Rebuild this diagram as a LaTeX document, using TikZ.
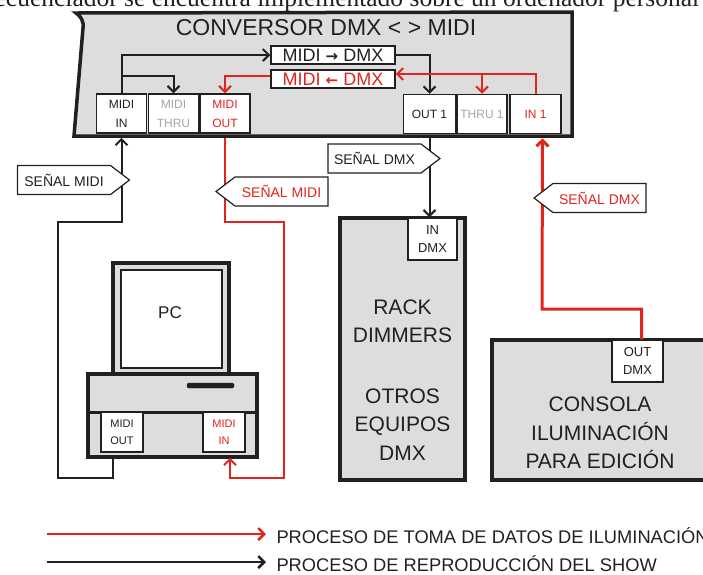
\documentclass[tikz,border=0pt]{standalone}
\usepackage{fontspec}
\setmainfont{Liberation Sans}
\newfontfamily\docserif{Liberation Serif}
\newfontfamily\arrowsym{DejaVu Sans}
\usetikzlibrary{arrows.meta,shapes.symbols,calc}

\definecolor{convGray}{RGB}{221,221,221}
\definecolor{sigRed}{RGB}{224,36,30}
\definecolor{thruGray}{RGB}{165,165,165}
\definecolor{inkBlack}{RGB}{35,31,32}

\begin{document}
\begin{tikzpicture}[x=1pt, y=-1pt, text=inkBlack,
   frame/.style={draw=inkBlack, line width=3.5pt, fill=convGray, inner sep=0pt},
   port/.style={draw=inkBlack, line width=1.5pt, fill=white, inner sep=0pt, align=center,
             minimum width=50pt, minimum height=39pt, font=\fontsize{12}{19}\selectfont},
   jack/.style={port, minimum width=49pt, minimum height=42pt, font=\fontsize{13}{18}\selectfont},
   route/.style={draw=inkBlack, line width=1.5pt, fill=white, inner sep=0pt,
             minimum width=124pt, minimum height=18pt, font=\fontsize{18}{18}\selectfont},
   tag/.style={signal, draw=inkBlack, line width=1.2pt, fill=white, inner sep=0pt,
             minimum width=112pt, minimum height=29pt, signal pointer angle=75,
             font=\fontsize{14}{14}\selectfont},
   blk/.style={draw=inkBlack, line width=2pt, -{Straight Barb[length=6pt,width=12pt]}},
   rd/.style={blk, draw=sigRed},
   big/.style={align=center, font=\fontsize{21}{28.5}\selectfont}]

  \useasboundingbox (0,0) rectangle (703,574);

  % ===== texto del documento (cortado) =====
  \node[anchor=base west, inner sep=0pt, font=\docserif\fontsize{25.5}{25.5}\selectfont]
        (doctext) at (124,6.5) {\llap{secuenciador }se encuentra implementado sobre un ordenador personal};

  % ===== Conversor DMX <> MIDI =====
  \draw[frame] (76,13) .. controls (81,16) and (84,22) .. (83,28) -- (74,136)
        -- (572,136) -- (572,12) -- cycle;
  \node[font=\fontsize{23}{23}\selectfont] (convtitle) at (326,28) {CONVERSOR DMX < > MIDI};
  \node[route] (mtod) at (333,55) {MIDI {\arrowsym\bfseries\fontsize{15}{15}\selectfont →} DMX};
  \node[route, text=sigRed] (dtom) at (333,79) {MIDI {\arrowsym\bfseries\fontsize{15}{15}\selectfont ←} DMX};
  % puertos MIDI
  \node[port] (midiin) at (121.5,113.5) {MIDI\\IN};
  \node[port, text=thruGray] (midithru) at (173.5,113.5) {MIDI\\THRU};
  \node[port, text=sigRed] (midiout) at (225,113.5) {MIDI\\OUT};
  % puertos DMX
  \node[port, minimum width=52pt] (out1) at (429.5,114) {OUT 1};
  \node[port, text=thruGray] (thru1) at (482,114) {THRU 1};
  \node[port, minimum width=51pt, text=sigRed] (in1) at (535.5,114) {IN 1};

  % ===== Rack y consola =====
  \node[frame, minimum width=125pt, minimum height=262pt] (rack) at (402.5,349) {};
  \node[jack] (indmx) at (432.5,239) {IN\\DMX};
  \node[big] (racktxt) at (402.5,380) {RACK\\DIMMERS\\[32pt]OTROS\\EQUIPOS\\DMX};

  \node[frame, minimum width=220pt, minimum height=140pt] (consola) at (602,410) {};
  \node[jack, minimum width=51pt] (outdmx) at (637.5,361) {OUT\\DMX};
  \node[big] (consolatxt) at (600,433) {CONSOLA\\ILUMINACIÓN\\PARA EDICIÓN};

  % ===== PC =====
  \node[frame, minimum width=116pt, minimum height=111pt] (monitor) at (171,318.5) {};
  \node[draw=inkBlack, line width=1.5pt, fill=white, minimum width=101pt,
        minimum height=98pt] (screen) at (171.5,319) {};
  \node[font=\fontsize{17}{17}\selectfont] (pclabel) at (170,313) {PC};
  \node[frame, minimum width=169pt, minimum height=83pt] (base) at (172.5,415.5) {};
  \draw[inkBlack, line width=3pt] ([yshift=3.5pt]base.west) -- ([yshift=3.5pt]base.east);
  \draw[inkBlack, fill=inkBlack, rounded corners=1.5pt] (187,383) rectangle (234,388);
  \node[port, minimum width=42pt, minimum height=40pt, font=\fontsize{11}{17}\selectfont]
        (pcout) at (122,432) {MIDI\\OUT};
  \node[port, minimum width=42pt, minimum height=40pt, font=\fontsize{11}{17}\selectfont,
        text=sigRed] (pcin) at (224,432) {MIDI\\IN};

  % ===== conexiones =====
  \coordinate (thrusplit) at ($(midiin.north)+(0,-17)$);
  \draw[blk] (midiin.north) |- (mtod.west);
  \draw[blk] (thrusplit) -| (midithru.north);
  \draw[blk] (mtod.east) -| (out1.north);
  \path (thru1.north |- dtom.east) ++(0,-5) coordinate (dmxsplit);
  \draw[rd] (in1.north) |- ([yshift=5pt]dtom.east);
  \draw[rd] (dmxsplit) -- (thru1.north);
  \draw[rd] ([yshift=3pt]dtom.west) -| (midiout.north);

  \coordinate (midiloopA) at (58,478);
  \coordinate (midiloopB) at (121.5,222);
  \draw[blk] ([xshift=-9pt,yshift=-5pt]pcout.south) |- (midiloopA) |- (midiloopB)
        -- ([yshift=-4pt]midiin.south);
  \coordinate (retloopA) at (284,222);
  \coordinate (retloopB) at (230,478);
  \draw[rd] ([yshift=-4pt]midiout.south) |- (retloopA) |- (retloopB)
        -- ([xshift=6pt,yshift=-5pt]pcin.south);
  \draw[blk] ([yshift=-4pt]out1.south) -- (out1.south |- indmx.north);
  \coordinate (dmxloop) at (542,309);
  \draw[rd, line width=3pt] ([xshift=4pt]outdmx.north) |- (dmxloop)
        -- ([xshift=7pt,yshift=-4pt]in1.south);

  % ===== etiquetas de señal =====
  \node[tag, signal to=east] (sigmidi) at (64,180) {SEÑAL MIDI};
  \node[tag, signal to=west, text=sigRed] (sigmidiret) at (281.5,191.5) {SEÑAL MIDI};
  \node[tag, signal to=east] (sigdmx) at (374.5,158.5) {SEÑAL DMX};
  \node[tag, signal to=west, text=sigRed] (sigdmxret) at (599.5,198) {SEÑAL DMX};

  % ===== leyenda =====
  \coordinate (redstart) at (47,534);
  \coordinate (blkstart) at (47,562);
  \node[anchor=west, font=\fontsize{18.3}{18.3}\selectfont] (redkey) at (273,536)
        {PROCESO DE TOMA DE DATOS DE ILUMINACIÓN};
  \node[anchor=west, font=\fontsize{18.3}{18.3}\selectfont] (blkkey) at (273,564)
        {PROCESO DE REPRODUCCIÓN DEL SHOW};
  \draw[rd, line width=2.5pt] (redstart) -- ([xshift=-7pt]redkey.west |- redstart);
  \draw[blk, line width=2.5pt] (blkstart) -- ([xshift=-7pt]blkkey.west |- blkstart);

\end{tikzpicture}
\end{document}
